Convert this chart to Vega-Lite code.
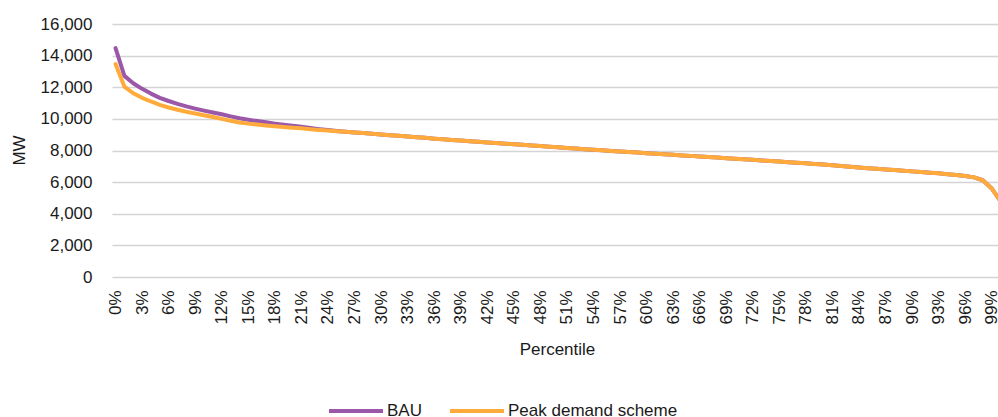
{
  "$schema": "https://vega.github.io/schema/vega-lite/v6.json",
  "width": 886,
  "height": 253,
  "autosize": {"type": "none"},
  "padding": {"left": 112, "top": 24, "right": 0, "bottom": 140},
  "background": "white",
  "config": {
    "view": {"stroke": null},
    "font": "Liberation Sans",
    "axis": {"labelFont": "Liberation Sans", "titleFont": "Liberation Sans", "labelColor": "#1a1a1a", "titleColor": "#1a1a1a", "titleFontWeight": "normal"},
    "legend": {"labelFont": "Liberation Sans", "labelColor": "#1a1a1a"}
  },
  "data": {
    "values": [
      {"p": 0, "BAU": 14480, "PDS": 13470},
      {"p": 1, "BAU": 12720, "PDS": 12040},
      {"p": 2, "BAU": 12250, "PDS": 11620},
      {"p": 3, "BAU": 11900, "PDS": 11330},
      {"p": 4, "BAU": 11600, "PDS": 11100},
      {"p": 5, "BAU": 11330, "PDS": 10890},
      {"p": 6, "BAU": 11130, "PDS": 10720},
      {"p": 7, "BAU": 10950, "PDS": 10580},
      {"p": 8, "BAU": 10790, "PDS": 10450},
      {"p": 9, "BAU": 10650, "PDS": 10340},
      {"p": 10, "BAU": 10520, "PDS": 10230},
      {"p": 11, "BAU": 10400, "PDS": 10120},
      {"p": 12, "BAU": 10290, "PDS": 10000},
      {"p": 13, "BAU": 10160, "PDS": 9880},
      {"p": 14, "BAU": 10040, "PDS": 9770},
      {"p": 15, "BAU": 9950, "PDS": 9700},
      {"p": 16, "BAU": 9860, "PDS": 9640},
      {"p": 17, "BAU": 9780, "PDS": 9580},
      {"p": 18, "BAU": 9700, "PDS": 9530},
      {"p": 19, "BAU": 9630, "PDS": 9480},
      {"p": 20, "BAU": 9560, "PDS": 9440},
      {"p": 21, "BAU": 9500, "PDS": 9400},
      {"p": 22, "BAU": 9420, "PDS": 9350},
      {"p": 23, "BAU": 9350, "PDS": 9300},
      {"p": 24, "BAU": 9290, "PDS": 9260},
      {"p": 25, "BAU": 9230, "PDS": 9220},
      {"p": 26, "BAU": 9180, "PDS": 9180},
      {"p": 27, "BAU": 9140, "PDS": 9140},
      {"p": 28, "BAU": 9100, "PDS": 9100},
      {"p": 29, "BAU": 9060, "PDS": 9060},
      {"p": 30, "BAU": 9010, "PDS": 9010},
      {"p": 31, "BAU": 8970, "PDS": 8970},
      {"p": 32, "BAU": 8930, "PDS": 8930},
      {"p": 33, "BAU": 8890, "PDS": 8890},
      {"p": 34, "BAU": 8840, "PDS": 8840},
      {"p": 35, "BAU": 8800, "PDS": 8800},
      {"p": 36, "BAU": 8750, "PDS": 8750},
      {"p": 37, "BAU": 8710, "PDS": 8710},
      {"p": 38, "BAU": 8670, "PDS": 8670},
      {"p": 39, "BAU": 8630, "PDS": 8630},
      {"p": 40, "BAU": 8590, "PDS": 8590},
      {"p": 41, "BAU": 8550, "PDS": 8550},
      {"p": 42, "BAU": 8510, "PDS": 8510},
      {"p": 43, "BAU": 8470, "PDS": 8470},
      {"p": 44, "BAU": 8430, "PDS": 8430},
      {"p": 45, "BAU": 8400, "PDS": 8400},
      {"p": 46, "BAU": 8360, "PDS": 8360},
      {"p": 47, "BAU": 8320, "PDS": 8320},
      {"p": 48, "BAU": 8280, "PDS": 8280},
      {"p": 49, "BAU": 8240, "PDS": 8240},
      {"p": 50, "BAU": 8200, "PDS": 8200},
      {"p": 51, "BAU": 8160, "PDS": 8160},
      {"p": 52, "BAU": 8120, "PDS": 8120},
      {"p": 53, "BAU": 8080, "PDS": 8080},
      {"p": 54, "BAU": 8050, "PDS": 8050},
      {"p": 55, "BAU": 8010, "PDS": 8010},
      {"p": 56, "BAU": 7970, "PDS": 7970},
      {"p": 57, "BAU": 7940, "PDS": 7940},
      {"p": 58, "BAU": 7900, "PDS": 7900},
      {"p": 59, "BAU": 7870, "PDS": 7870},
      {"p": 60, "BAU": 7830, "PDS": 7830},
      {"p": 61, "BAU": 7800, "PDS": 7800},
      {"p": 62, "BAU": 7760, "PDS": 7760},
      {"p": 63, "BAU": 7730, "PDS": 7730},
      {"p": 64, "BAU": 7690, "PDS": 7690},
      {"p": 65, "BAU": 7660, "PDS": 7660},
      {"p": 66, "BAU": 7620, "PDS": 7620},
      {"p": 67, "BAU": 7590, "PDS": 7590},
      {"p": 68, "BAU": 7550, "PDS": 7550},
      {"p": 69, "BAU": 7510, "PDS": 7510},
      {"p": 70, "BAU": 7480, "PDS": 7480},
      {"p": 71, "BAU": 7440, "PDS": 7440},
      {"p": 72, "BAU": 7410, "PDS": 7410},
      {"p": 73, "BAU": 7370, "PDS": 7370},
      {"p": 74, "BAU": 7340, "PDS": 7340},
      {"p": 75, "BAU": 7300, "PDS": 7300},
      {"p": 76, "BAU": 7260, "PDS": 7260},
      {"p": 77, "BAU": 7230, "PDS": 7230},
      {"p": 78, "BAU": 7190, "PDS": 7190},
      {"p": 79, "BAU": 7150, "PDS": 7150},
      {"p": 80, "BAU": 7110, "PDS": 7110},
      {"p": 81, "BAU": 7070, "PDS": 7070},
      {"p": 82, "BAU": 7020, "PDS": 7020},
      {"p": 83, "BAU": 6970, "PDS": 6970},
      {"p": 84, "BAU": 6930, "PDS": 6930},
      {"p": 85, "BAU": 6880, "PDS": 6880},
      {"p": 86, "BAU": 6840, "PDS": 6840},
      {"p": 87, "BAU": 6800, "PDS": 6800},
      {"p": 88, "BAU": 6760, "PDS": 6760},
      {"p": 89, "BAU": 6720, "PDS": 6720},
      {"p": 90, "BAU": 6680, "PDS": 6680},
      {"p": 91, "BAU": 6640, "PDS": 6640},
      {"p": 92, "BAU": 6600, "PDS": 6600},
      {"p": 93, "BAU": 6555, "PDS": 6555},
      {"p": 94, "BAU": 6505, "PDS": 6505},
      {"p": 95, "BAU": 6450, "PDS": 6450},
      {"p": 96, "BAU": 6390, "PDS": 6390},
      {"p": 97, "BAU": 6300, "PDS": 6300},
      {"p": 98, "BAU": 6120, "PDS": 6120},
      {"p": 99, "BAU": 5600, "PDS": 5600},
      {"p": 100, "BAU": 4800, "PDS": 4800}
    ]
  },
  "transform": [
    {"fold": ["BAU", "PDS"], "as": ["key", "mw"]},
    {"lookup": "key", "from": {"data": {"values": [{"key": "BAU", "series": "BAU", "ord": 0}, {"key": "PDS", "series": "Peak demand scheme", "ord": 1}]}, "key": "key", "fields": ["series", "ord"]}}
  ],
  "mark": {"type": "line", "strokeWidth": 4, "clip": true, "strokeJoin": "round", "strokeCap": "round"},
  "encoding": {
    "x": {
      "field": "p", "type": "quantitative",
      "scale": {"domain": [-0.4, 99.71], "nice": false, "zero": false},
      "axis": {
        "values": [0, 3, 6, 9, 12, 15, 18, 21, 24, 27, 30, 33, 36, 39, 42, 45, 48, 51, 54, 57, 60, 63, 66, 69, 72, 75, 78, 81, 84, 87, 90, 93, 96, 99],
        "labelExpr": "datum.value + '%'",
        "labelAngle": -90, "labelFontSize": 17, "labelPadding": 13,
        "labelOverlap": false, "labelFlush": false, "labelBound": false,
        "ticks": false, "domain": false, "grid": false,
        "title": "Percentile", "titleFontSize": 17, "titleBaseline": "middle", "titleY": 72, "titleX": 445
      }
    },
    "y": {
      "field": "mw", "type": "quantitative",
      "scale": {"domain": [0, 16000], "nice": false},
      "axis": {
        "values": [0, 2000, 4000, 6000, 8000, 10000, 12000, 14000, 16000],
        "format": ",d", "labelFontSize": 17, "labelPadding": 20,
        "ticks": false, "domain": false,
        "gridColor": "#d4d4d4", "gridWidth": 1.5,
        "title": "MW", "titleFontSize": 17, "titleBaseline": "middle", "titleX": -93, "titleY": 126
      }
    },
    "color": {
      "field": "series", "type": "nominal",
      "scale": {"domain": ["BAU", "Peak demand scheme"], "range": ["#9b57a8", "#ffab3b"]},
      "legend": {
        "title": null, "orient": "none", "direction": "horizontal",
        "legendX": 215, "legendY": 358,
        "symbolType": "stroke", "symbolSize": 2916, "symbolStrokeWidth": 4,
        "labelFontSize": 17, "labelOffset": 2, "labelLimit": 400, "columnPadding": 20, "padding": 0
      }
    },
    "order": {"field": "ord"}
  }
}
